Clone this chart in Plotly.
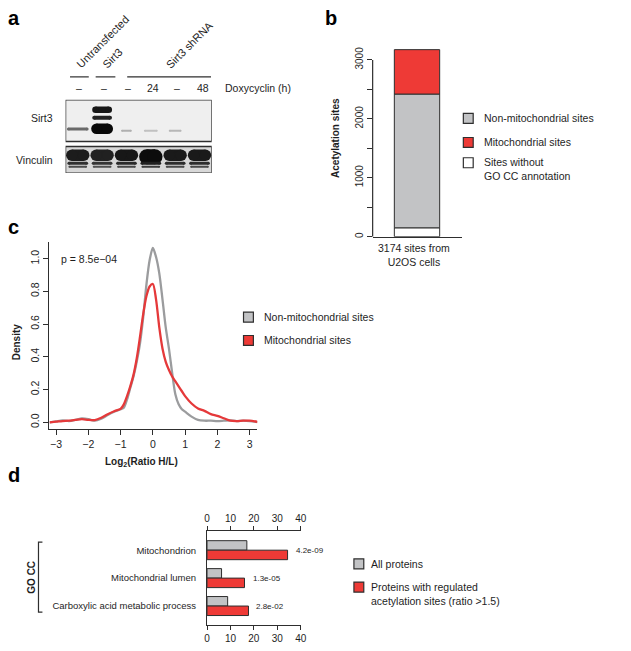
import plotly.graph_objects as go

W, H = 631, 651
FONT = "Arial, Liberation Sans, Helvetica, sans-serif"
TXT = "#1e1e1e"
RED = "#ee3a36"
REDLINE = "#e5393a"
GRAYFILL = "#c2c3c5"
GRAYLINE = "#9b9c9e"
EDGE = "#2e2e2e"

# ---------------- data ----------------
# panel a (western blot): lanes and band intensities
lane_labels = ["–", "–", "–", "24", "–", "48"]
sirt3_lane = [1, 2, 2, 2, 3, 4, 5]
sirt3_pos = [29.3, 10, 18, 29, 31, 31, 31]
sirt3_intensity = [0.55, 0.9, 0.85, 0.96, 0.25, 0.18, 0.22]
vinculin_lane = [1, 2, 3, 4, 5, 6]
vinculin_intensity = [0.88, 0.86, 0.9, 0.95, 0.89, 0.89]

# panel b
b_categories = ["Sites without GO CC annotation", "Non-mitochondrial sites", "Mitochondrial sites"]
b_counts = [150, 2270, 754]

# panel c (density of log2 H/L ratios)
c_x = [-3.2, -3.0, -2.8, -2.6, -2.4, -2.2, -2.0, -1.8, -1.6, -1.4, -1.2, -1.0, -0.9, -0.8, -0.7,
       -0.6, -0.5, -0.4, -0.3, -0.2, -0.1, 0.0, 0.1, 0.2, 0.3, 0.4, 0.5, 0.6, 0.7, 0.8, 0.9, 1.0,
       1.2, 1.4, 1.6, 1.8, 2.0, 2.2, 2.4, 2.6, 2.8, 3.0, 3.25]
c_nonmito = [0.0, 0.006, 0.012, 0.008, 0.015, 0.024, 0.020, 0.010, 0.022, 0.045, 0.065, 0.080, 0.09,
             0.14, 0.21, 0.28, 0.37, 0.48, 0.64, 0.84, 0.99, 1.065, 1.01, 0.91, 0.75, 0.58, 0.45,
             0.30, 0.17, 0.11, 0.08, 0.065, 0.035, 0.015, 0.010, 0.010, 0.008, 0.010, 0.012, 0.008,
             0.010, 0.008, 0.002]
c_mito = [0.0, 0.004, 0.008, 0.010, 0.015, 0.020, 0.015, 0.014, 0.028, 0.050, 0.068, 0.082, 0.11,
          0.16, 0.22, 0.29, 0.39, 0.52, 0.66, 0.77, 0.83, 0.845, 0.75, 0.58, 0.45, 0.37, 0.32,
          0.28, 0.25, 0.22, 0.19, 0.16, 0.115, 0.085, 0.07, 0.05, 0.04, 0.025, 0.01, 0.008, 0.01,
          0.01, 0.003]
c_pvalue = "p = 8.5e−04"

# panel d
d_terms = ["Mitochondrion", "Mitochondrial lumen", "Carboxylic acid metabolic process"]
d_all = [17.0, 6.2, 8.8]
d_regulated = [34.4, 16.0, 17.7]
d_pvalues = ["4.2e-09", "1.3e-05", "2.8e-02"]


def fx(p):
    return p / W


def fy(p):
    return 1 - p / H


fig = go.Figure()

# ---------------- panel a ----------------
LANE_PX = 24.7


def gray_of(intensity):
    v = int(round(235 * (1 - intensity)))
    return f"rgb({v},{v},{v})"


def band(lane, pos, thick, length_px, color):
    hw = (length_px - thick) / 2 / LANE_PX
    fig.add_trace(go.Scatter(
        x=[lane - hw, lane + hw], y=[pos, pos], mode="lines+markers",
        line=dict(color=color, width=thick), marker=dict(size=thick, color=color),
        hoverinfo="skip", showlegend=False, xaxis="x", yaxis="y", cliponaxis=True))


sirt3_thick = {0: 3, 1: 6.5, 2: 4, 3: 10.5, 4: 2, 5: 2, 6: 2}
sirt3_len = {0: 22, 1: 20, 2: 20, 3: 22, 4: 11, 5: 14, 6: 13}
for i, (ln, ps, it) in enumerate(zip(sirt3_lane, sirt3_pos, sirt3_intensity)):
    band(ln, ps, sirt3_thick[i], sirt3_len[i], gray_of(it))

for ln, it in zip(vinculin_lane, vinculin_intensity):
    big = ln == 4
    band(ln, 57 if big else 55.5, 15 if big else 11.5, 23.5, gray_of(it))
    band(ln, 63.5, 3, 21, gray_of(it - 0.08))
    band(ln, 67, 2, 19, gray_of(it - 0.2))

shapes = []
shapes.append(dict(type="rect", xref="x", yref="y", x0=0.5, x1=6.5, y0=0, y1=41.7,
                   fillcolor="#efefef", line=dict(color=EDGE, width=1.3), layer="below"))
shapes.append(dict(type="rect", xref="x", yref="y", x0=0.5, x1=6.5, y0=46.7, y1=73.3,
                   fillcolor="#d8d8d8", line=dict(color=EDGE, width=1.3), layer="below"))
for a, b in [(68, 87), (94, 114), (126, 211)]:
    shapes.append(dict(type="line", xref="paper", yref="paper", x0=fx(a), x1=fx(b),
                       y0=fy(77), y1=fy(77), line=dict(color=EDGE, width=1.2)))

# ---------------- panel b ----------------
b_colors = ["#ffffff", GRAYFILL, RED]
base = 0
for cat, cnt, col in zip(b_categories, b_counts, b_colors):
    fig.add_trace(go.Bar(x=[0], y=[cnt], base=[base], width=1, offset=-0.5,
                         marker=dict(color=col, line=dict(color=EDGE, width=1)),
                         name=cat, showlegend=False, xaxis="x2", yaxis="y2", hoverinfo="skip"))
    base += cnt
shapes.append(dict(type="line", xref="x2 domain", yref="y2", x0=0, x1=0, y0=0, y1=3000,
                   line=dict(color=EDGE, width=1.2)))

# ---------------- panel c ----------------
fig.add_trace(go.Scatter(x=c_x, y=c_nonmito, mode="lines", line=dict(color=GRAYLINE, width=2.3, shape="spline", smoothing=0.8),
                         name="Non-mitochondrial sites", showlegend=False, xaxis="x3", yaxis="y3", hoverinfo="skip"))
fig.add_trace(go.Scatter(x=c_x, y=c_mito, mode="lines", line=dict(color=REDLINE, width=2.3, shape="spline", smoothing=0.8),
                         name="Mitochondrial sites", showlegend=False, xaxis="x3", yaxis="y3", hoverinfo="skip"))

# ---------------- panel d ----------------
d_idx = list(range(len(d_terms)))
fig.add_trace(go.Bar(y=d_idx, x=d_all, orientation="h", width=0.34, offset=-0.34,
                     marker=dict(color=GRAYFILL, line=dict(color=EDGE, width=1)),
                     name="All proteins", showlegend=False, xaxis="x4", yaxis="y4", hoverinfo="skip"))
fig.add_trace(go.Bar(y=d_idx, x=d_regulated, orientation="h", width=0.34, offset=0,
                     marker=dict(color=RED, line=dict(color=EDGE, width=1)),
                     name="Proteins with regulated acetylation sites (ratio >1.5)", showlegend=False,
                     xaxis="x5", yaxis="y4", hoverinfo="skip"))

# GO CC bracket
path = (f"M {fx(40)} {fy(543)} L {fx(36)} {fy(543)} L {fx(36)} {fy(613)} L {fx(40)} {fy(613)}")
shapes.append(dict(type="path", xref="paper", yref="paper", path=path, line=dict(color=EDGE, width=1.2)))


# legend squares
def legend_square(cx, cy, color, s=10):
    shapes.append(dict(type="rect", xref="paper", yref="paper", x0=fx(cx - s / 2), x1=fx(cx + s / 2),
                       y0=fy(cy + s / 2), y1=fy(cy - s / 2), fillcolor=color,
                       line=dict(color=EDGE, width=1.2)))


legend_square(472, 118.5, GRAYFILL)
legend_square(472, 142.7, RED)
legend_square(472, 163, "#ffffff")
legend_square(249, 317.7, GRAYFILL)
legend_square(249, 341, RED)
legend_square(361, 564.7, GRAYFILL)
legend_square(361, 588, RED)

# ---------------- annotations ----------------
anns = []


def ann(text, x, y, size=10.5, xanchor="left", yanchor="middle", bold=False, angle=0, color=TXT,
        align=None, **kw):
    if bold:
        text = f"<b>{text}</b>"
    d = dict(text=text, x=fx(x), y=fy(y), xref="paper", yref="paper", showarrow=False,
             xanchor=xanchor, yanchor=yanchor, textangle=angle,
             align=align if align else ("left" if xanchor == "left" else xanchor),
             font=dict(family=FONT, size=size, color=color))
    d.update(kw)
    anns.append(d)


# panel letters
ann("a", 3, 18, size=20, bold=True, color="#000")
ann("b", 325, 18, size=20, bold=True, color="#000")
ann("c", 3, 227, size=20, bold=True, color="#000")
ann("d", 3, 476, size=20, bold=True, color="#000")

# panel a labels
ann("Untransfected", 101, 42.5, size=11, xanchor="center", angle=-45)
ann("Sirt3", 111, 58, size=11, xanchor="center", angle=-45)
ann("Sirt3 shRNA", 189, 45, size=11, xanchor="center", angle=-45)
lane_px = [77, 102, 127, 152, 177, 203]
for lbl, px in zip(lane_labels, lane_px):
    ann(lbl, px, 88.5, size=10.5, xanchor="center")
ann("Doxycyclin (h)", 223, 88.5, size=10.5)
ann("Sirt3", 53, 118, size=10.5, xanchor="right")
ann("Vinculin", 53, 160, size=10.5, xanchor="right")

# panel b texts
ann("Acetylation sites", 338, 138, size=10, xanchor="center", bold=True, angle=-90)
ann("3174 sites from<br>U2OS cells", 417, 255, size=10.5, xanchor="center")
ann("Non-mitochondrial sites", 486, 118.5, size=10.5)
ann("Mitochondrial sites", 486, 142.7, size=10.5)
ann("Sites without<br>GO CC annotation", 486, 169.5, size=10.5)

# panel c texts
ann(c_pvalue, 57, 259, size=10.5)
ann("Density", 14, 342, size=10, xanchor="center", bold=True, angle=-90)
ann("Log<sub>2</sub>(Ratio H/L)", 141, 463, size=10, xanchor="center", bold=True)
ann("Non-mitochondrial sites", 263, 317.7, size=10.5)
ann("Mitochondrial sites", 263, 341, size=10.5)

# panel d texts
ann("GO CC", 29, 578, size=10, xanchor="center", bold=True, angle=-90)
for i, (pv, v) in enumerate(zip(d_pvalues, d_regulated)):
    anns.append(dict(text=pv, x=v, y=i, xref="x4", yref="y4", showarrow=False, xanchor="left",
                     yanchor="middle", xshift=6, yshift=0, font=dict(family=FONT, size=8, color=TXT)))
ann("All proteins", 371, 564.7, size=10.5)
ann("Proteins with regulated<br>acetylation sites (ratio >1.5)", 371, 594.5, size=10.5)

# ---------------- axes ----------------
tickfont = dict(family=FONT, size=10, color=TXT)
common_line = dict(linecolor=EDGE, linewidth=1.2, tickcolor=EDGE, tickwidth=1.1,
                   showgrid=False, zeroline=False)

fig.update_layout(
    width=W, height=H, margin=dict(l=0, r=0, t=0, b=0),
    paper_bgcolor="white", plot_bgcolor="rgba(0,0,0,0)",
    font=dict(family=FONT, color=TXT), barmode="overlay", showlegend=False,
    xaxis=dict(domain=[fx(63.5), fx(211.7)], range=[0.5, 6.5], visible=False, anchor="y"),
    yaxis=dict(domain=[fy(173.3), fy(100)], range=[73.3, 0], visible=False, anchor="x"),
    xaxis2=dict(domain=[fx(375), fx(466)], range=[-0.978, 1.0], anchor="y2", showline=True,
                showticklabels=False, ticks="", **common_line),
    yaxis2=dict(domain=[fy(237), fy(45)], range=[0, 3254], anchor="x2", showline=False,
                ticks="outside", ticklen=5, tickvals=[0, 1000, 2000, 3000],
                ticktext=["0", "1000", "2000", "3000"], tickangle=-90, tickfont=tickfont,
                minor=dict(tickvals=[500, 1500, 2500], ticks="outside", ticklen=5,
                           tickcolor=EDGE, tickwidth=1.1, showgrid=False),
                **common_line),
    xaxis3=dict(domain=[fx(47), fx(258)], range=[-3.21, 3.24], anchor="y3", showline=True,
                ticks="outside", ticklen=5, tickvals=[-3, -2, -1, 0, 1, 2, 3],
                ticktext=["−3", "−2", "−1", "0", "1", "2", "3"], tickfont=dict(family=FONT, size=10.5, color=TXT),
                **common_line),
    yaxis3=dict(domain=[fy(430), fy(242)], range=[-0.0427, 1.104], anchor="x3", showline=True,
                ticks="outside", ticklen=5, tickvals=[0, 0.2, 0.4, 0.6, 0.8, 1.0],
                ticktext=["0.0", "0.2", "0.4", "0.6", "0.8", "1.0"], tickangle=-90,
                tickfont=dict(family=FONT, size=10.5, color=TXT), **common_line),
    xaxis4=dict(domain=[fx(207), fx(302)], range=[0, 40], anchor="y4", side="bottom", showline=True,
                ticks="outside", ticklen=4, tickvals=[0, 10, 20, 30, 40], tickfont=tickfont, **common_line),
    xaxis5=dict(domain=[fx(207), fx(302)], range=[0, 40], anchor="y4", side="top", overlaying="x4",
                showline=True, ticks="outside", ticklen=4, tickvals=[0, 10, 20, 30, 40],
                tickfont=tickfont, **common_line),
    yaxis4=dict(domain=[fy(626), fy(532)], range=[2.68, -0.68], anchor="x4", showline=True, ticks="",
                tickvals=d_idx, ticktext=d_terms, ticklabelstandoff=8,
                tickfont=dict(family=FONT, size=9.5, color=TXT), **common_line),
    shapes=shapes, annotations=anns,
)

fig.write_html("out.html", config={"displayModeBar": False},
               post_script="document.body.style.margin='0';document.body.style.padding='0';")
